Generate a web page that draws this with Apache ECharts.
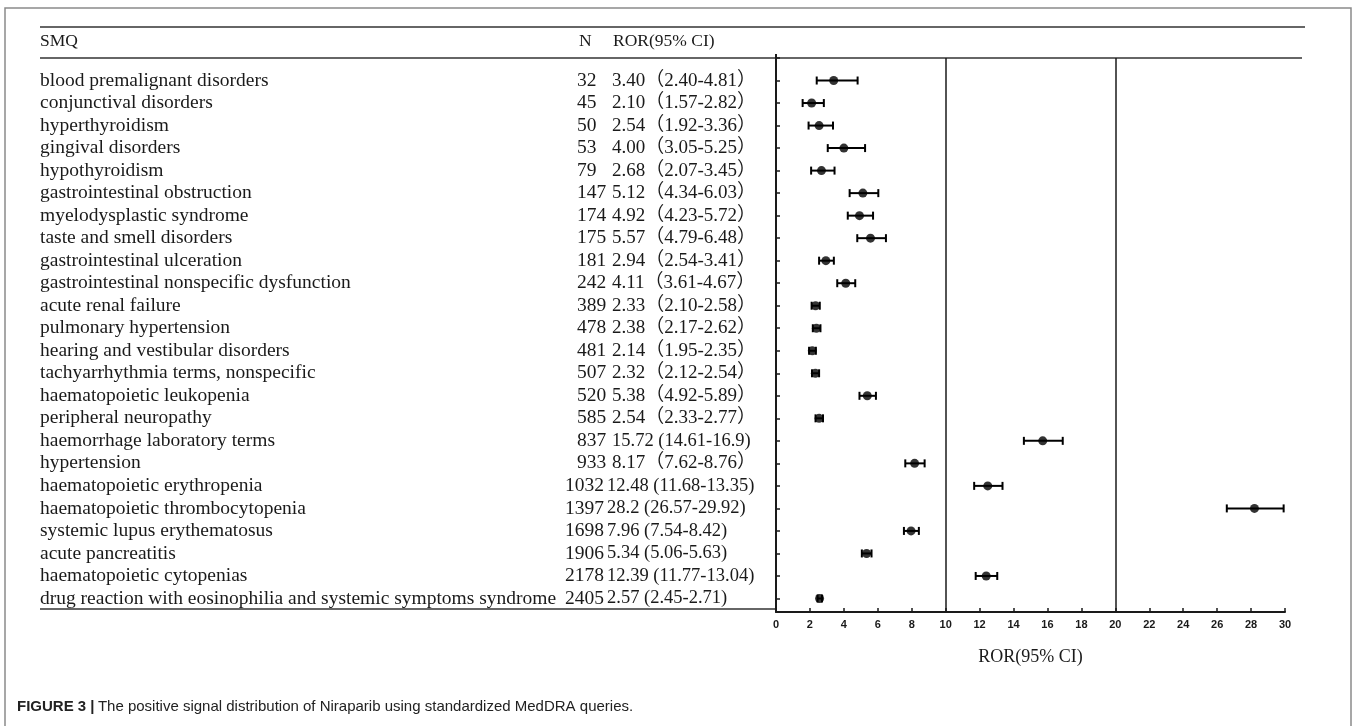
<!DOCTYPE html>
<html>
<head>
<meta charset="utf-8">
<script src="https://cdn.jsdelivr.net/npm/echarts@6/dist/echarts.min.js"></script>
<style>
  html, body { margin: 0; padding: 0; background: #fff; }
  #chart { width: 1355px; height: 726px; }
</style>
</head>
<body>
<div id="chart"></div>
<script>
const smq = [
  'blood premalignant disorders',
  'conjunctival disorders',
  'hyperthyroidism',
  'gingival disorders',
  'hypothyroidism',
  'gastrointestinal obstruction',
  'myelodysplastic syndrome',
  'taste and smell disorders',
  'gastrointestinal ulceration',
  'gastrointestinal nonspecific dysfunction',
  'acute renal failure',
  'pulmonary hypertension',
  'hearing and vestibular disorders',
  'tachyarrhythmia terms, nonspecific',
  'haematopoietic leukopenia',
  'peripheral neuropathy',
  'haemorrhage laboratory terms',
  'hypertension',
  'haematopoietic erythropenia',
  'haematopoietic thrombocytopenia',
  'systemic lupus erythematosus',
  'acute pancreatitis',
  'haematopoietic cytopenias',
  'drug reaction with eosinophilia and systemic symptoms syndrome'
]
const nCases = [32, 45, 50, 53, 79, 147, 174, 175, 181, 242, 389, 478, 481, 507, 520, 585, 837, 933, 1032, 1397, 1698, 1906, 2178, 2405]
const ror = ['3.40', '2.10', '2.54', '4.00', '2.68', '5.12', '4.92', '5.57', '2.94', '4.11', '2.33', '2.38', '2.14', '2.32', '5.38', '2.54', '15.72', '8.17', '12.48', '28.2', '7.96', '5.34', '12.39', '2.57']
const ciLow = ['2.40', '1.57', '1.92', '3.05', '2.07', '4.34', '4.23', '4.79', '2.54', '3.61', '2.10', '2.17', '1.95', '2.12', '4.92', '2.33', '14.61', '7.62', '11.68', '26.57', '7.54', '5.06', '11.77', '2.45']
const ciHigh = ['4.81', '2.82', '3.36', '5.25', '3.45', '6.03', '5.72', '6.48', '3.41', '4.67', '2.58', '2.62', '2.35', '2.54', '5.89', '2.77', '16.9', '8.76', '13.35', '29.92', '8.42', '5.63', '13.04', '2.71']
const refLines = [10, 20]

const serif = '"Liberation Serif", "Times New Roman", "Noto Sans CJK SC", serif'
const sans = '"Liberation Sans", Arial, sans-serif'
const ink = '#1a1a1a'

const chart = echarts.init(document.getElementById('chart'))

const points = ror.map((v, i) => [parseFloat(v), i + 1])
const bars = ciLow.map((lo, i) => [parseFloat(lo), parseFloat(ciHigh[i]), i + 1])

// one table row per y tick: SMQ, N, ROR (95% CI)
function rowLabel(v) {
  if (!Number.isInteger(v) || v < 1 || v > smq.length) return ''
  const i = v - 1
  const wide = nCases[i] >= 1000
  // longer rows are set tighter in the source table
  if (wide || ror[i].length > 4) {
    const ci = ror[i] + ' (' + ciLow[i] + '-' + ciHigh[i] + ')'
    return (wide ? '{a4|' + smq[i] + '}{b4|' : '{a|' + smq[i] + '}{b|') + nCases[i] + '}{t|' + ci + '}'
  }
  return '{a|' + smq[i] + '}{b|' + nCases[i] + '}{c|' + ror[i] + '（' + ciLow[i] + '-' + ciHigh[i] + '）}'
}

const txt = { fontFamily: serif, fontSize: 19.5, color: ink }

chart.setOption({
  backgroundColor: '#fff',
  animation: false,
  grid: { left: 776, right: 70, top: 58, bottom: 114 },
  xAxis: {
    type: 'value',
    position: 'bottom',
    min: 0,
    max: 30,
    interval: 2,
    name: 'ROR(95% CI)',
    nameLocation: 'middle',
    nameGap: 36,
    nameTextStyle: { fontFamily: serif, fontSize: 18, color: ink },
    axisLine: { show: true, onZero: false, lineStyle: { color: ink, width: 2 } },
    axisTick: { show: true, inside: true, length: 4, lineStyle: { color: ink, width: 1.5 } },
    axisLabel: { color: ink, fontFamily: sans, fontWeight: 'bold', fontSize: 11, margin: 7 },
    splitLine: { show: false }
  },
  yAxis: {
    type: 'value',
    inverse: true,
    min: 0,
    max: 24.6,
    interval: 1,
    axisLine: { show: true, onZero: false, lineStyle: { color: ink, width: 2 } },
    axisTick: { show: true, inside: true, length: 4, lineStyle: { color: ink, width: 1.5 } },
    axisLabel: {
      align: 'left',
      margin: 736,
      formatter: rowLabel,
      rich: {
        a: Object.assign({ width: 537 }, txt),
        b: Object.assign({ width: 35 }, txt),
        a4: Object.assign({ width: 525 }, txt),
        b4: Object.assign({ width: 42 }, txt),
        c: Object.assign({}, txt, { fontSize: 19 }),
        t: Object.assign({}, txt, { fontSize: 18.5 })
      }
    },
    splitLine: { show: false }
  },
  graphic: [
    { type: 'rect', shape: { x: 5, y: 8, width: 1346, height: 740 }, style: { fill: 'none', stroke: '#8a8a8a', lineWidth: 1.5 } },
    { type: 'line', shape: { x1: 40, y1: 27, x2: 1305, y2: 27 }, style: { stroke: '#333', lineWidth: 1.5 } },
    { type: 'line', shape: { x1: 40, y1: 58, x2: 1302, y2: 58 }, style: { stroke: '#333', lineWidth: 1.5 } },
    { type: 'line', shape: { x1: 40, y1: 609, x2: 776, y2: 609 }, style: { stroke: '#333', lineWidth: 1.5 } },
    { type: 'line', shape: { x1: 776, y1: 54, x2: 776, y2: 60 }, style: { stroke: ink, lineWidth: 2 } },
    { type: 'text', left: 40, top: 33, style: { text: 'SMQ', font: '17.5px ' + serif, fill: ink } },
    { type: 'text', left: 579, top: 33, style: { text: 'N', font: '17.5px ' + serif, fill: ink } },
    { type: 'text', left: 613, top: 33, style: { text: 'ROR(95% CI)', font: '17.5px ' + serif, fill: ink } },
    {
      type: 'text', left: 17, top: 699,
      style: {
        text: '{t|FIGURE 3 |} {d|The positive signal distribution of Niraparib using standardized MedDRA queries.}',
        rich: {
          t: { fontFamily: sans, fontWeight: 'bold', fontSize: 15, fill: '#222' },
          d: { fontFamily: sans, fontSize: 15, fill: '#222' }
        }
      }
    }
  ],
  series: [
    {
      type: 'custom',
      data: bars,
      renderItem: (params, api) => {
        const a = api.coord([api.value(0), api.value(2)])
        const b = api.coord([api.value(1), api.value(2)])
        const cap = 4
        const st = { stroke: '#000', lineWidth: 2 }
        return {
          type: 'group',
          children: [
            { type: 'line', shape: { x1: a[0], y1: a[1], x2: b[0], y2: b[1] }, style: st },
            { type: 'line', shape: { x1: a[0], y1: a[1] - cap, x2: a[0], y2: a[1] + cap }, style: st },
            { type: 'line', shape: { x1: b[0], y1: b[1] - cap, x2: b[0], y2: b[1] + cap }, style: st }
          ]
        }
      },
      markLine: {
        silent: true,
        symbol: 'none',
        label: { show: false },
        lineStyle: { color: ink, width: 1.5, type: 'solid' },
        data: refLines.map((x) => ({ xAxis: x }))
      },
      z: 2
    },
    {
      type: 'scatter',
      data: points,
      symbol: 'circle',
      symbolSize: 9,
      itemStyle: { color: '#000' },
      z: 3
    }
  ]
})
</script>
</body>
</html>
